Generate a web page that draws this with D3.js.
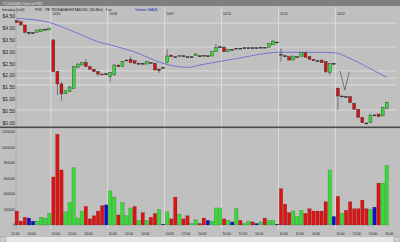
<!DOCTYPE html>
<html>
<head>
<meta charset="utf-8">
<script src="https://cdn.jsdelivr.net/npm/d3@7/dist/d3.min.js"></script>
<style>
body { margin: 0; background: #c0c0c0; }
svg { display: block; font-family: "Liberation Sans", Arial, sans-serif; }
</style>
</head>
<body>
<script>
// 30-min bars, PKZ, 10/04 (partial) to 10/12
var dayLabels = ["10/05", "10/06", "10/07", "10/10", "10/11", "10/12"];
var daySizes = [9, 14, 14, 14, 14, 14, 13];

var open = [4.32,4.28,4.14,3.83,3.81,3.83,3.86,3.96,3.93,
  3.51,2.17,1.65,1.25,1.32,1.47,2.35,2.45,2.55,2.38,2.27,2.17,2.07,2.07,
  1.96,2.03,2.45,2.38,2.66,2.69,2.63,2.52,2.52,2.49,2.55,2.52,2.28,2.35,
  2.55,2.87,2.80,2.80,2.84,2.80,2.80,2.84,2.84,2.86,2.84,2.83,3.01,3.22,
  3.20,3.01,3.11,3.16,3.16,3.18,3.18,3.18,3.18,3.20,3.20,3.20,3.30,3.42,
  2.90,2.84,2.80,2.66,2.80,2.80,2.97,2.80,2.69,2.63,2.66,2.59,2.13,2.52,
  1.47,1.14,1.11,1.11,0.83,0.58,0.24,0.00,0.01,0.34,0.38,0.30,0.62];
var high = [4.35,4.28,4.14,3.86,3.84,3.93,3.96,3.98,4.02,
  3.55,2.20,1.74,1.39,1.56,2.41,2.53,2.58,2.70,2.38,2.27,2.17,2.08,2.10,
  2.15,2.49,2.45,2.62,2.68,2.80,2.63,2.53,2.53,2.60,2.56,2.52,2.28,2.36,
  3.11,2.87,2.81,2.87,2.85,2.81,2.81,2.92,2.85,2.86,2.85,3.01,3.34,3.25,
  3.25,3.11,3.12,3.17,3.17,3.19,3.19,3.19,3.19,3.21,3.21,3.37,3.50,3.43,
  3.15,2.85,2.80,2.83,2.81,2.97,2.97,2.80,2.69,2.64,2.66,2.59,2.53,2.53,
  1.50,1.16,1.13,1.11,0.83,0.58,0.24,0.01,0.36,0.35,0.38,0.68,0.90];
var low = [4.24,4.14,3.79,3.72,3.78,3.83,3.86,3.95,3.93,
  2.15,1.18,0.94,1.23,1.31,1.44,2.32,2.43,2.37,2.27,2.15,1.96,2.03,2.05,
  1.74,2.00,2.37,2.37,2.63,2.55,2.50,2.50,2.50,2.49,2.54,2.24,2.11,2.34,
  2.52,2.80,2.79,2.80,2.83,2.79,2.79,2.84,2.83,2.83,2.83,2.83,3.01,3.18,
  3.01,3.01,3.10,3.15,3.15,3.17,3.17,3.17,3.17,3.19,3.19,3.18,3.30,3.41,
  2.59,2.83,2.66,2.66,2.79,2.80,2.78,2.69,2.63,2.62,2.55,2.11,2.03,2.51,
  0.55,1.12,1.10,0.86,0.58,0.24,0.01,-0.01,0.00,0.33,0.27,0.30,0.62];
var close = [4.24,4.14,3.83,3.83,3.82,3.93,3.96,3.96,4.01,
  2.17,1.65,1.23,1.36,1.52,2.38,2.49,2.55,2.38,2.27,2.17,2.07,2.05,2.08,
  2.13,2.45,2.38,2.59,2.66,2.55,2.52,2.52,2.52,2.59,2.55,2.24,2.21,2.35,
  2.83,2.80,2.80,2.86,2.84,2.80,2.80,2.92,2.84,2.83,2.84,3.01,3.18,3.22,
  3.01,3.11,3.11,3.16,3.16,3.18,3.18,3.18,3.18,3.20,3.20,3.37,3.46,3.42,
  2.87,2.84,2.66,2.83,2.80,2.97,2.78,2.69,2.63,2.63,2.55,2.17,2.52,2.52,
  1.14,1.14,1.12,0.86,0.58,0.24,0.01,0.00,0.34,0.34,0.27,0.66,0.86];

var volume = [180000,50000,100000,90000,50000,50000,100000,90000,150000,
  620000,1170000,710000,170000,290000,740000,90000,180000,240000,80000,120000,180000,250000,260000,
  440000,360000,130000,290000,120000,220000,240000,60000,160000,60000,100000,150000,200000,10000,
  170000,80000,360000,140000,80000,120000,20000,70000,20000,90000,60000,50000,220000,220000,
  80000,60000,40000,210000,60000,20000,50000,40000,20000,40000,90000,60000,60000,10000,
  470000,270000,160000,180000,110000,190000,150000,210000,180000,180000,180000,300000,710000,110000,
  370000,150000,190000,300000,210000,210000,320000,210000,200000,230000,540000,540000,770000];
// volume colour per bar: u = up, d = down, n = unchanged
var volDir = "dddnnuuuu" +
  "ddduuuuudddddn" +
  "uuduuudududdun" +
  "uddudduuddnuuu" +
  "dunuduudnuduun" +
  "ddduuuddddddun" +
  "duddddddunduu";

// moving average read at a few bars
var maSlot = [0, 8, 12, 16, 20, 23, 29, 36, 42, 45, 53, 65, 72, 78, 82, 86, 91];
var maValue = [4.42, 4.25, 4.00, 3.72, 3.43, 3.30, 3.00, 2.52, 2.35, 2.45, 2.69, 2.99, 2.99, 2.97, 2.73, 2.38, 1.93];

// horizontal lines drawn on the price chart
var levels = [4.22, 3.21, 2.20, 1.90, 1.61, 0.55];
// the hand drawn "V"
var vSlot = [79.5, 80.7, 81.8];
var vPrice = [2.21, 1.39, 2.17];

var priceTicks = [4.5, 4, 3.5, 3, 2.5, 2, 1.5, 1, 0.5, 0];
var volTicks = [1200000, 1000000, 800000, 600000, 400000, 200000, 0];
var timeTicks = ["10:00", "12:00", "14:00", "16:00"];

var width = 400, height = 242;
var nSlots = d3.sum(daySizes) + 1;

var svg = d3.select("body").append("svg")
  .attr("width", width)
  .attr("height", height);

svg.append("rect").attr("width", width).attr("height", height).attr("fill", "#c0c0c0");

var x = d3.scaleBand().domain(d3.range(nSlots)).range([14.7, 392.8]);
var bw = x.bandwidth();
var xc = function(s) { return x.range()[0] + x.step() * (s + 0.5); };
var yP = d3.scaleLinear().domain([0, 4.5]).range([123, 16.5]);
var yV = d3.scaleLinear().domain([0, 1200000]).range([225, 132]);

// first bar of each day
var dayStart = [];
var acc = 0;
daySizes.forEach(function(n) { dayStart.push(acc); acc += n; });

// time of each slot (the last day gets one empty slot for 16:00)
var slotTime = [];
daySizes.forEach(function(n, d) {
  var m = d === 0 ? 16 * 60 - (n - 1) * 30 : 9 * 60 + 30;
  var cnt = d === daySizes.length - 1 ? n + 1 : n;
  for (var i = 0; i < cnt; i++) {
    var t = m + i * 30;
    slotTime.push(Math.floor(t / 60) + ":" + d3.format("02")(t % 60));
  }
});

// top strip
svg.append("rect").attr("width", width).attr("height", 6).attr("fill", "#7f7f7f");
svg.append("text").attr("x", 3).attr("y", 4.6).attr("font-size", 3.6).attr("fill", "#e8e8e8")
  .text("TC2000(R) Chart of PKZ");

// header
var header = svg.append("g").attr("font-size", 3.6).attr("fill", "#111");
header.append("text").attr("x", 2).attr("y", 10.5).text("Intraday (Left)");
header.append("text").attr("x", 35).attr("y", 10.5).text("PKZ - PETROKAZAKHSTAN INC (30-Min)");
header.append("text").attr("x", 106).attr("y", 10.5).text("Bar");
header.append("text").attr("x", 135).attr("y", 10.5).attr("fill", "#2020c0").text("Volume");
header.append("text").attr("x", 148).attr("y", 10.5).attr("fill", "#2020c0").text("MA(8)");

// day separators
svg.selectAll(".sep")
  .data(dayStart.slice(1))
  .enter().append("line")
  .attr("x1", function(d) { return x(d) - 0.5; })
  .attr("x2", function(d) { return x(d) - 0.5; })
  .attr("y1", 7).attr("y2", 229)
  .attr("stroke", "#e2e2e2").attr("stroke-width", 0.8);

svg.selectAll(".day")
  .data(dayLabels)
  .enter().append("text")
  .attr("x", function(d, i) { return x(dayStart[i + 1]) + 1; })
  .attr("y", 15)
  .attr("font-size", 3.2).attr("fill", "#222")
  .text(function(d) { return d; });

// level lines
svg.selectAll(".lvl")
  .data(levels)
  .enter().append("line")
  .attr("x1", 16).attr("x2", 396)
  .attr("y1", function(d) { return yP(d); })
  .attr("y2", function(d) { return yP(d); })
  .attr("stroke", "#e2e2e2").attr("stroke-width", 0.8);

// left axis line
svg.append("line").attr("x1", 16).attr("x2", 16).attr("y1", 7).attr("y2", 229)
  .attr("stroke", "#9a9a9a").attr("stroke-width", 0.6);

// price labels
svg.selectAll(".pt")
  .data(priceTicks)
  .enter().append("text")
  .attr("x", 15).attr("y", function(d) { return yP(d) + 1.8; })
  .attr("text-anchor", "end").attr("font-size", 5).attr("fill", "#222")
  .text(function(d) { return "$" + d3.format(".2f")(d); });

// moving average
var ma = d3.line()
  .x(function(d, i) { return xc(maSlot[i]); })
  .y(function(d) { return yP(d); })
  .curve(d3.curveMonotoneX);
svg.append("path").attr("d", ma(maValue))
  .attr("fill", "none").attr("stroke", "#6c6cd4").attr("stroke-width", 0.9);

// candles
var bars = d3.range(open.length);
svg.selectAll(".wick")
  .data(bars)
  .enter().append("line")
  .attr("x1", function(i) { return xc(i); })
  .attr("x2", function(i) { return xc(i); })
  .attr("y1", function(i) { return yP(high[i]); })
  .attr("y2", function(i) { return yP(low[i]); })
  .attr("stroke", "#3a3a3a").attr("stroke-width", 0.6);

svg.selectAll(".body")
  .data(bars)
  .enter().append("rect")
  .attr("x", function(i) { return xc(i) - bw * 0.36; })
  .attr("width", bw * 0.72)
  .attr("y", function(i) { return yP(Math.max(open[i], close[i])); })
  .attr("height", function(i) { return Math.max(0.9, Math.abs(yP(open[i]) - yP(close[i]))); })
  .attr("fill", function(i) {
    if (Math.abs(open[i] - close[i]) < 0.02) return "#222";
    return close[i] > open[i] ? "#3ddc3d" : "#d41414";
  })
  .attr("stroke", "#2a2a2a").attr("stroke-width", 0.4);

// V annotation
svg.append("path")
  .attr("d", d3.line().x(function(d, i) { return xc(vSlot[i]); }).y(function(d) { return yP(d); })(vPrice))
  .attr("fill", "none").attr("stroke", "#505050").attr("stroke-width", 0.7);

// panel divider
svg.append("rect").attr("x", 0).attr("y", 126.5).attr("width", width).attr("height", 1.6).attr("fill", "#4a4a4a");

// volume labels
svg.selectAll(".vt")
  .data(volTicks)
  .enter().append("text")
  .attr("x", 15).attr("y", function(d) { return yV(d) + 1.3; })
  .attr("text-anchor", "end").attr("font-size", 3.4).attr("fill", "#222")
  .text(function(d) { return d; });

// volume bars
var volColor = { u: "#35dc35", d: "#dc1414", n: "#1010c8" };
svg.selectAll(".vol")
  .data(bars)
  .enter().append("rect")
  .attr("x", function(i) { return xc(i) - bw * 0.42; })
  .attr("width", bw * 0.84)
  .attr("y", function(i) { return yV(volume[i]); })
  .attr("height", function(i) { return yV(0) - yV(volume[i]); })
  .attr("fill", function(i) { return volColor[volDir[i]]; })
  .attr("stroke", "rgba(0,0,0,0.35)").attr("stroke-width", 0.4);

// time labels, skip ones that would collide
var tl = [];
slotTime.forEach(function(t, s) { if (timeTicks.indexOf(t) >= 0) tl.push(s); });
tl = tl.filter(function(s, k) { return k === tl.length - 1 || xc(tl[k + 1]) - xc(s) >= 10; });
svg.selectAll(".tt")
  .data(tl)
  .enter().append("text")
  .attr("x", function(s) { return xc(s) - 1.5; })
  .attr("y", 234.5)
  .attr("text-anchor", "middle").attr("font-size", 3.3).attr("fill", "#222")
  .text(function(s) { return slotTime[s]; });

// scroll bar
svg.append("rect").attr("x", 0).attr("y", 237).attr("width", width).attr("height", 5).attr("fill", "#e6e6e6");
svg.append("rect").attr("x", 0).attr("y", 237).attr("width", 6).attr("height", 5).attr("fill", "#d0d0d0").attr("stroke", "#888").attr("stroke-width", 0.4);
svg.append("rect").attr("x", 394).attr("y", 237).attr("width", 6).attr("height", 5).attr("fill", "#d0d0d0").attr("stroke", "#888").attr("stroke-width", 0.4);
</script>
</body>
</html>
